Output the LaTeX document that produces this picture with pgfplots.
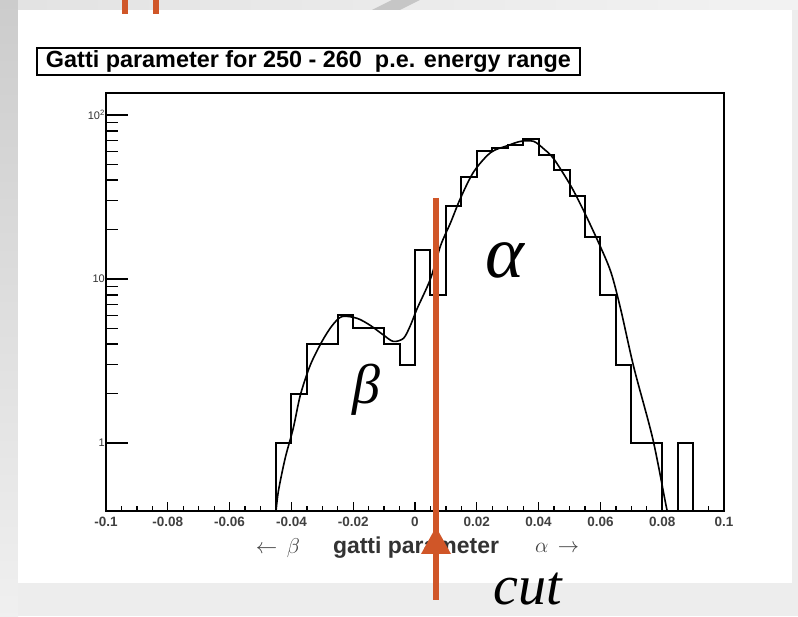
\documentclass[border=0pt]{standalone}
\usepackage{pgfplots}
\pgfplotsset{compat=1.18}
\usepackage{graphicx}
\usepackage{fontspec}
\setmainfont{Liberation Sans}
\newfontfamily\serifit{Liberation Serif}
\definecolor{cutorange}{RGB}{208,86,40}
\begin{document}
\begin{tikzpicture}[x=1pt,y=1pt]
\useasboundingbox (0,0) rectangle (798,616);
% slide background
\fill[gray!14] (0,0) rectangle (798,616);
\shade[top color=gray!40, bottom color=gray!12] (0,0) rectangle (18,616);
\shade[left color=gray!22, right color=gray!10] (18,606) rectangle (798,616);
\fill[gray!45] (372,606) -- (392,616) -- (420,616) -- (400,606) -- cycle;
\fill[white] (18,33) rectangle (792,606);
\fill[cutorange] (122,602) rectangle (128,616);
\fill[cutorange] (153,602) rectangle (159,616);
% title box
\node[draw, line width=1.8pt, minimum width=543pt, minimum height=27pt, inner sep=0pt] at (308.5,554.5)
  {\resizebox{525pt}{!}{\fontsize{19}{19}\selectfont\bfseries Gatti parameter for 250 - 260 \ p.e. energy range}};
% main axis with data and y ticks
\begin{axis}[
  at={(106pt,105pt)}, anchor=south west, scale only axis,
  width=618pt, height=418pt,
  xmin=-0.1, xmax=0.1, ymode=log, ymin=0.385, ymax=136,
  axis line style={line width=2pt},
  xtick=\empty,
  ytick={1,10,100}, yticklabels={1,10,10\textsuperscript{2}},
  ytick pos=left,
  tick style={black, line width=1.5pt},
  major tick length=22pt, minor tick length=12pt,
  yticklabel style={font=\fontsize{11}{11}\selectfont, inner sep=1pt, text=black!80},
  /pgf/number format/assume math mode=true,
]
\addplot[const plot mark left, black, line width=2pt] coordinates {
(-0.05,0.01) (-0.045,1) (-0.04,2) (-0.035,4) (-0.03,4) (-0.025,6) (-0.02,5) (-0.015,5)
(-0.01,4) (-0.005,3) (0,15) (0.005,8) (0.01,28) (0.015,42) (0.02,60) (0.025,63)
(0.03,66) (0.035,71) (0.04,57) (0.045,46) (0.05,32) (0.055,18) (0.06,8) (0.065,3)
(0.07,1) (0.075,1) (0.08,0.01) (0.085,1) (0.09,0.01) (0.1,0.01)
};
\addplot[smooth, black, line width=1.6pt] coordinates {
(-0.0450,0.38) (-0.0442,0.51) (-0.0420,0.81) (-0.0394,1.23) (-0.0371,1.96) (-0.0339,2.98)
(-0.0301,4.16) (-0.0268,5.2) (-0.0236,5.9) (-0.0187,5.75) (-0.0144,5.2) (-0.0102,4.55)
(-0.0070,4.16) (-0.0037,4.35) (-0.0015,5.2) (0.0007,6.6) (0.0050,10) (0.0083,16)
(0.0115,22) (0.0147,31) (0.0190,45) (0.0245,59) (0.0300,65) (0.0342,69) (0.0384,69)
(0.0417,62) (0.0449,54) (0.0504,37) (0.0546,26) (0.0595,16.5) (0.0634,11) (0.0666,6.5)
(0.0708,2.9) (0.0769,1.07) (0.0812,0.42) (0.0820,0.36)
};
\end{axis}
% overlay axis for x ticks
\begin{axis}[
  at={(106pt,105pt)}, anchor=south west, scale only axis,
  width=618pt, height=418pt,
  xmin=-0.1, xmax=0.1, ymin=0, ymax=1,
  axis line style={draw=none},
  ytick=\empty,
  xtick={-0.1,-0.08,-0.06,-0.04,-0.02,0,0.02,0.04,0.06,0.08,0.1},
  xticklabels={-0.1,-0.08,-0.06,-0.04,-0.02,0,0.02,0.04,0.06,0.08,0.1},
  minor x tick num=3,
  xtick pos=bottom,
  tick style={black, line width=1.3pt},
  major tick length=9pt, minor tick length=5pt,
  xticklabel style={font=\fontsize{13.5}{13.5}\selectfont\bfseries, inner sep=1pt, text=black!75, yshift=-5pt},
  /pgf/number format/assume math mode=true,
]
\end{axis}
% axis title
\node[text=black!75, inner sep=0pt] at (278pt,68pt) {\resizebox{44pt}{!}{\fontsize{14}{14}\selectfont$\leftarrow\,\beta$}};
\node[text=black!80, inner sep=0pt] at (416pt,68pt) {\resizebox{166pt}{!}{\fontsize{14}{14}\selectfont\bfseries gatti parameter}};
\node[text=black!75, inner sep=0pt] at (557pt,68pt) {\resizebox{44pt}{!}{\fontsize{14}{14}\selectfont$\alpha\,\rightarrow$}};
% annotations
\node[font=\serifit\itshape\fontsize{74}{74}\selectfont] at (505pt,356pt) {α};
\node[font=\serifit\itshape\fontsize{56}{56}\selectfont] at (366pt,226pt) {β};
\node[font=\serifit\itshape\fontsize{56}{56}\selectfont, anchor=base] at (528pt,12pt) {cut};
\draw[cutorange, line width=5.5pt] (436pt,418pt) -- (436pt,16pt);
\fill[cutorange] (436pt,89pt) -- (451pt,62pt) -- (421pt,62pt) -- cycle;
\end{tikzpicture}
\end{document}
